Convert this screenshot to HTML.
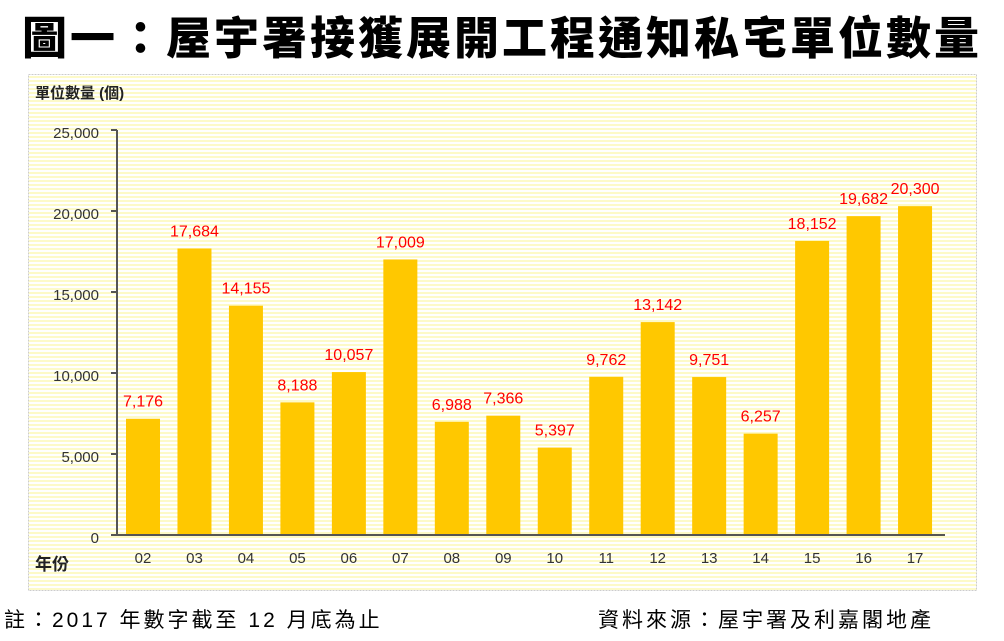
<!DOCTYPE html>
<html><head><meta charset="utf-8"><style>
body{margin:0;width:1004px;height:641px;background:#fff;overflow:hidden;font-family:"Liberation Sans","Noto Sans CJK TC",sans-serif;}
.t{position:absolute;left:0;top:2px;width:1004px;text-align:center;font-size:45px;font-weight:900;font-family:"Noto Sans CJK TC","WenQuanYi Zen Hei",sans-serif;color:#000;letter-spacing:3px;white-space:nowrap}
.f{position:absolute;top:604px;font-size:21px;letter-spacing:3px;white-space:nowrap;font-family:"Liberation Sans","Noto Sans CJK TC",sans-serif;}
</style></head><body>
<div class="t">圖一：屋宇署接獲展開工程通知私宅單位數量</div>
<svg style="position:absolute;left:0;top:0" width="1004" height="641" font-family="Liberation Sans, Noto Sans CJK TC, sans-serif">
<defs><pattern id="p" width="4" height="4" patternUnits="userSpaceOnUse"><rect width="4" height="4" fill="#fff"/><rect width="4" height="2" fill="#fdfac8"/></pattern></defs>
<rect x="28.5" y="74.5" width="948" height="516" fill="url(#p)" stroke="#ccc" stroke-dasharray="2,1"/>
<text x="35" y="98" font-size="15" font-weight="bold" fill="#222">單位數量 (個)</text>
<text x="35" y="570" font-size="17" font-weight="bold" fill="#222">年份</text>
<g font-size="15" fill="#333" text-anchor="end">
<text x="99" y="138">25,000</text><text x="99" y="219">20,000</text><text x="99" y="300">15,000</text><text x="99" y="381">10,000</text><text x="99" y="462">5,000</text><text x="99" y="543">0</text></g>
<g stroke="#555" stroke-width="2"><line x1="117" y1="130" x2="117" y2="535"/><line x1="111" y1="130" x2="117" y2="130"/><line x1="111" y1="211" x2="117" y2="211"/><line x1="111" y1="292" x2="117" y2="292"/><line x1="111" y1="373" x2="117" y2="373"/><line x1="111" y1="454" x2="117" y2="454"/><line x1="111" y1="535" x2="117" y2="535"/></g>
<g id="bars"></g>
<line x1="112" y1="535" x2="945" y2="535" stroke="#555" stroke-width="2"/>
</svg>
<div class="f" style="left:4px">註：2017 年數字截至 12 月底為止</div>
<div class="f" style="left:598px">資料來源：屋宇署及利嘉閣地產</div>
<script>
var v=[7176,17684,14155,8188,10057,17009,6988,7366,5397,9762,13142,9751,6257,18152,19682,20300];
var g=document.getElementById('bars'),s='';
v.forEach(function(d,i){var c=143+i*51.47,y=535-d*0.0162;
s+='<rect x="'+(c-17)+'" y="'+y+'" width="34" height="'+(535-y)+'" fill="#ffc800"/>';
s+='<text x="'+c+'" y="'+(y-12)+'" font-size="16" fill="#f00" text-anchor="middle">'+d.toLocaleString('en-US')+'</text>';
s+='<text x="'+c+'" y="563" font-size="15" fill="#333" text-anchor="middle">'+String(i+2).padStart(2,'0')+'</text>';});
g.innerHTML=s;
</script>
</body></html>
